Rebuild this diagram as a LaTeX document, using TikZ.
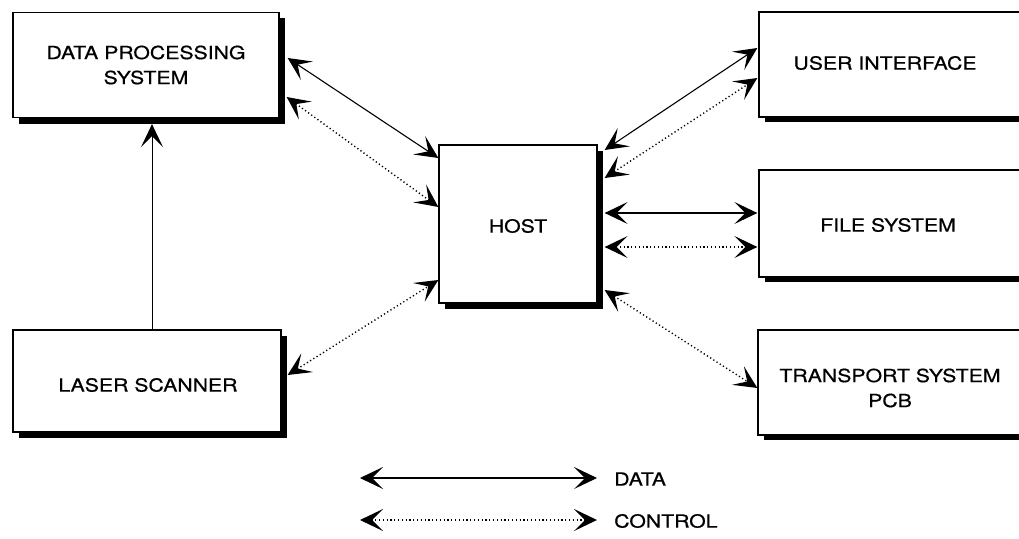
\documentclass[tikz,border=0pt]{standalone}
\usepackage{fontspec}
\setmainfont{TeX Gyre Heros}[FakeStretch=1.18, FakeBold=0.6]
\usetikzlibrary{arrows.meta}
\begin{document}
\begin{tikzpicture}[x=1pt,y=-1pt,
  >={Stealth[length=23pt, width=22pt, inset=11pt]},
  lbl/.style={font=\fontsize{18}{25}\selectfont, align=center, inner sep=0pt},
  blk/.style={draw=black, line width=1.3pt, fill=white, inner sep=0pt,
    minimum width=#1, minimum height=105pt},
  data/.style={line width=1.1pt, <->},
  ctrl/.style={line width=1.4pt, dash pattern=on 1.2pt off 2.6pt, <->},
  shadowfill/.style={fill=black}]
\useasboundingbox (0,0) rectangle (1019,538);
\begin{scope}
\clip (0,0) rectangle (1019,538);
% drop shadows
\fill[shadowfill] (19,18) rectangle (285,124);
\fill[shadowfill] (19,336) rectangle (287,438);
\fill[shadowfill] (445,151) rectangle (603,309);
\fill[shadowfill] (765,18) rectangle (1036,122);
\fill[shadowfill] (765,176) rectangle (1036,282);
\fill[shadowfill] (764,336) rectangle (1036,440);
% blocks
\node[blk=266pt] (dps) at (146,65) {};
\node[blk=268pt, minimum height=102pt] (laser) at (147,381) {};
\node[blk=158pt, minimum height=158pt] (host) at (518,224) {};
\node[blk=271pt] (ui) at (894.5,64.5) {};
\node[blk=271pt, minimum height=107pt] (fs) at (894.5,223.5) {};
\node[blk=272pt] (tp) at (894,382.5) {};
\end{scope}
% block texts
\node[lbl] (dpsT) at (dps.center) {DATA PROCESSING\\SYSTEM};
\node[lbl] (laserT) at (148,385) {LASER SCANNER};
\node[lbl] (hostT) at (518,226) {HOST};
\node[lbl] (uiT) at (885,63) {USER INTERFACE};
\node[lbl] (fsT) at (888,225) {FILE SYSTEM};
\node[lbl] (tpT) at (890,388) {TRANSPORT SYSTEM\\PCB};
% scanner feeds the data processing system
\draw[line width=1pt, ->] ([xshift=5]laser.north) -- ([shift={(6,6)}]dps.south);
% links to the host
\draw[data] ([shift={(8,-7)}]dps.east) -- ([shift={(0,-66)}]host.west);
\draw[ctrl] ([shift={(7,32)}]dps.east) -- ([shift={(0,-17)}]host.west);
\draw[ctrl] ([shift={(6,-6)}]laser.east) -- ([shift={(0,56)}]host.west);
\draw[data] ([shift={(7,-74)}]host.east) -- ([shift={(-1,-16.5)}]ui.west);
\draw[ctrl] ([shift={(7,-46)}]host.east) -- ([shift={(-1,13.5)}]ui.west);
\draw[data] ([shift={(7,-11)}]host.east) -- ([shift={(-1,-10.5)}]fs.west);
\draw[ctrl] ([shift={(7,23)}]host.east) -- ([shift={(-1,23.5)}]fs.west);
\draw[ctrl] ([shift={(7,66)}]host.east) -- ([shift={(0,5.5)}]tp.west);
% legend
\coordinate (dA) at (360,478);
\coordinate (dB) at (597,478);
\coordinate (cA) at (360,520);
\coordinate (cB) at (597,520);
\draw[data] (dA) -- (dB);
\draw[ctrl] (cA) -- (cB);
\node[lbl, anchor=west] (dataT) at (614,479) {DATA};
\node[lbl, anchor=west] (ctrlT) at (614,521) {CONTROL};
\end{tikzpicture}
\end{document}
